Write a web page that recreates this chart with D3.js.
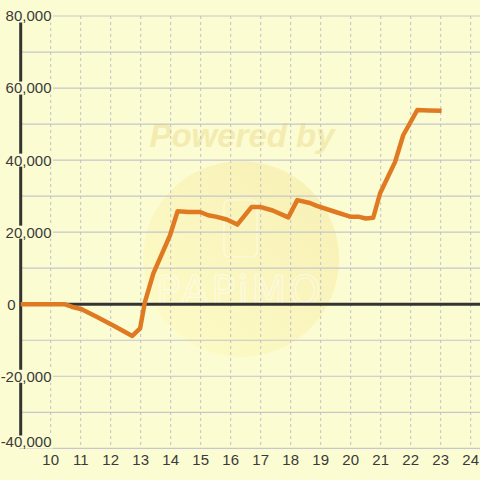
<!DOCTYPE html>
<html><head><meta charset="utf-8">
<script src="https://cdn.jsdelivr.net/npm/d3@7"></script>
<style>html,body{margin:0;padding:0;background:#fcfcd2;}svg{display:block;}</style>
</head><body>
<svg id="c" width="480" height="480"></svg>
<script>
const hours = [9, 10.45, 10.7, 11.03, 11.53, 12.1, 12.72, 12.98, 13.14, 13.42, 13.98, 14.23, 14.6, 14.98, 15.25, 15.5, 15.87, 16.22, 16.7, 16.98, 17.4, 17.92, 18.22, 18.64, 18.87, 19.42, 19.98, 20.25, 20.5, 20.75, 20.98, 21.48, 21.75, 22.22, 22.6, 23.03];
const values = [0, 0, -700, -1400, -3500, -6000, -8800, -6700, 600, 8500, 19200, 25800, 25600, 25600, 24700, 24300, 23500, 22100, 27000, 27000, 26000, 24100, 28900, 28100, 27300, 25800, 24300, 24300, 23800, 24000, 30800, 39500, 46900, 53900, 53800, 53700];
const xTicks = [10, 11, 12, 13, 14, 15, 16, 17, 18, 19, 20, 21, 22, 23, 24];
const yMajor = [80000, 60000, 40000, 20000, 0, -20000, -40000];
const yMinor = [70000, 50000, 30000, 10000, -10000, -30000];

const svg = d3.select("#c");
const W = 480, H = 480;
const x = d3.scaleLinear().domain([9, 24]).range([20.7, 470.7]);
const y = d3.scaleLinear().domain([-40000, 80000]).range([448.3, 16]);
const bg = "#fcfcd2";
svg.append("rect").attr("width", W).attr("height", H).attr("fill", bg);

// watermark
const defs = svg.append("defs");
const g = defs.append("linearGradient").attr("id","wm").attr("x1","0").attr("y1","1").attr("x2","1").attr("y2","0");
g.append("stop").attr("offset","0").attr("stop-color","#fffbc0");
g.append("stop").attr("offset","1").attr("stop-color","#f3e69c");
svg.append("circle").attr("cx",241).attr("cy",259).attr("r",98).attr("fill","url(#wm)").attr("opacity",0.55);
svg.append("text").attr("x",242).attr("y",147).attr("text-anchor","middle")
  .attr("font-family","Liberation Sans, Arial, sans-serif").attr("font-weight","bold").attr("font-style","italic")
  .attr("font-size",33).attr("fill","#f2e6a6").attr("opacity",0.75).text("Powered by");
svg.append("rect").attr("x",224).attr("y",200).attr("width",33).attr("height",57).attr("rx",5)
  .attr("fill","none").attr("stroke","#ffffff").attr("stroke-width",1.2).attr("opacity",0.55);
svg.append("text").attr("x",240).attr("y",305).attr("text-anchor","middle")
  .attr("font-family","DejaVu Sans, sans-serif").attr("font-size",40).attr("letter-spacing",3)
  .attr("fill","none").attr("stroke","#ffffff").attr("stroke-width",1.1).attr("opacity",0.55).text("PAPiMO");

// horizontal gridlines
const hg = svg.append("g");
[...yMajor, ...yMinor].forEach(v => {
  hg.append("line").attr("x1", 20).attr("x2", W).attr("y1", y(v)).attr("y2", y(v))
    .attr("stroke", "#c6c6cc").attr("stroke-width", 1.2);
});
// vertical dashed gridlines
xTicks.forEach(v => {
  svg.append("line").attr("x1", x(v)).attr("x2", x(v)).attr("y1", y(80000)).attr("y2", y(-40000))
    .attr("stroke", "#c0c0c8").attr("stroke-width", 1).attr("stroke-dasharray", "3,3");
});

// y axis line
svg.append("line").attr("x1", 20.7).attr("x2", 20.7).attr("y1", y(80000)).attr("y2", y(-40000))
  .attr("stroke", "#333").attr("stroke-width", 3);

// y labels with background
const fmt = d3.format(",");
yMajor.forEach(v => {
  let cy = Math.min(y(v), 442);
  if (v === 0) {
    svg.append("text").attr("x", 15.5).attr("y", cy).attr("dy", "0.36em").attr("text-anchor", "end")
      .attr("font-family", "Liberation Sans, Arial, sans-serif").attr("font-size", 15).attr("fill", "#3a3a3a")
      .text("0");
    return;
  }
  svg.append("rect").attr("x", 0).attr("y", cy - 6.5).attr("width", 53).attr("height", 13).attr("fill", bg);
  svg.append("text").attr("x", 51.5).attr("y", cy).attr("dy", "0.36em").attr("text-anchor", "end")
    .attr("font-family", "Liberation Sans, Arial, sans-serif").attr("font-size", 15).attr("fill", "#3a3a3a")
    .text(fmt(v).replace("−","-"));
});

// zero line
svg.append("line").attr("x1", 20).attr("x2", W).attr("y1", y(0)).attr("y2", y(0))
  .attr("stroke", "#333").attr("stroke-width", 3);

// x labels
xTicks.forEach(v => {
  svg.append("text").attr("x", x(v)).attr("y", 460).attr("dy", "0.36em").attr("text-anchor", "middle")
    .attr("font-family", "Liberation Sans, Arial, sans-serif").attr("font-size", 15).attr("fill", "#3a3a3a")
    .text(v);
});

// data line
const data = hours.map((h, i) => [h, values[i]]);
svg.append("path").datum(data)
  .attr("d", d3.line().x(d => x(d[0])).y(d => y(d[1])))
  .attr("fill", "none").attr("stroke", "#e07a22").attr("stroke-width", 4.5)
  .attr("stroke-linejoin", "round").attr("stroke-linecap", "butt");
</script>
</body></html>
